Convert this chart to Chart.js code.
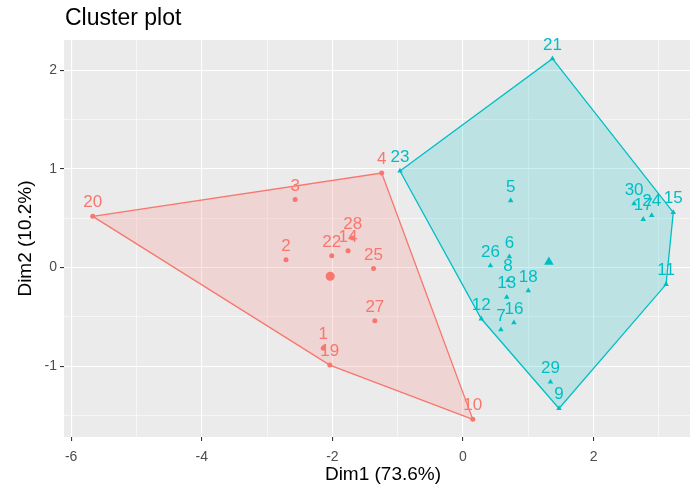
<!DOCTYPE html>
<html>
<head>
<meta charset="utf-8">
<script src="https://cdn.jsdelivr.net/npm/chart.js@4.4.1/dist/chart.umd.min.js"></script>
<style>
  html, body { margin: 0; padding: 0; background: #ffffff; overflow: hidden; }
  #wrap { position: relative; width: 710px; height: 486px; }
</style>
</head>
<body>
<div id="wrap"><canvas id="chart"></canvas></div>
<script>
// Cluster 1 (red, circles)
const ids1  = ['20', '3', '4', '2', '22', '14', '28', '25', '27', '1', '19', '10'];
const dim1A = [-5.67, -2.57, -1.245, -2.71, -2.01, -1.76, -1.69, -1.37, -1.35, -2.14, -2.04, 0.15];
const dim2A = [0.52, 0.69, 0.96, 0.08, 0.12, 0.17, 0.30, -0.01, -0.54, -0.82, -0.99, -1.54];

// Cluster 2 (cyan, triangles)
const ids2  = ['21', '23', '5', '30', '24', '17', '15', '26', '6', '8', '13', '18', '16', '7', '12', '29', '9', '11'];
const dim1B = [1.37, -0.965, 0.73, 2.62, 2.89, 2.76, 3.22, 0.42, 0.71, 0.69, 0.67, 1.00, 0.78, 0.58, 0.28, 1.34, 1.47, 3.11];
const dim2B = [2.12, 0.98, 0.68, 0.65, 0.53, 0.49, 0.56, 0.02, 0.11, -0.13, -0.30, -0.235, -0.56, -0.63, -0.52, -1.16, -1.43, -0.17];

// Axis breaks
const xBreaks = [-6, -5, -4, -3, -2, -1, 0, 1, 2, 3];
const yBreaks = [-1.5, -1, -0.5, 0, 0.5, 1, 1.5, 2];
const xLabelled = [-6, -4, -2, 0, 2];
const yLabelled = [-1, 0, 1, 2];

const RED = '#F8766D';
const CYAN = '#00BFC4';
const FONT = '"Liberation Sans", Arial, sans-serif';

function toPoints(xs, ys) { return xs.map((x, i) => ({ x: x, y: ys[i] })); }
function mean(a) { return a.reduce((s, v) => s + v, 0) / a.length; }

// Convex hull (monotone chain), returned as a closed ring
function convexHull(pts) {
  const p = pts.slice().sort((a, b) => a.x - b.x || a.y - b.y);
  const cross = (o, a, b) => (a.x - o.x) * (b.y - o.y) - (a.y - o.y) * (b.x - o.x);
  const lower = [], upper = [];
  for (const q of p) {
    while (lower.length >= 2 && cross(lower[lower.length - 2], lower[lower.length - 1], q) <= 0) lower.pop();
    lower.push(q);
  }
  for (let i = p.length - 1; i >= 0; i--) {
    const q = p[i];
    while (upper.length >= 2 && cross(upper[upper.length - 2], upper[upper.length - 1], q) <= 0) upper.pop();
    upper.push(q);
  }
  upper.pop(); lower.pop();
  const ring = lower.concat(upper);
  ring.push(ring[0]);
  return ring;
}

const ptsA = toPoints(dim1A, dim2A);
const ptsB = toPoints(dim1B, dim2B);
const centreA = [{ x: mean(dim1A), y: mean(dim2A) }];
const centreB = [{ x: mean(dim1B), y: mean(dim2B) }];

// Grey panel behind the grid
const panelBackground = {
  id: 'panelBackground',
  beforeDraw(chart) {
    const { ctx, chartArea: a } = chart;
    ctx.save();
    ctx.fillStyle = '#EBEBEB';
    ctx.fillRect(a.left, a.top, a.right - a.left, a.bottom - a.top);
    ctx.restore();
  }
};

// Observation numbers above each point, plus the plot title
const pointText = {
  id: 'pointText',
  afterDatasetsDraw(chart) {
    const { ctx } = chart;
    ctx.save();
    ctx.font = '17px ' + FONT;
    ctx.textAlign = 'center';
    ctx.textBaseline = 'alphabetic';
    chart.data.datasets.forEach((ds, i) => {
      if (!ds.pointNames) return;
      const meta = chart.getDatasetMeta(i);
      ctx.fillStyle = ds.borderColor;
      meta.data.forEach((el, j) => {
        ctx.fillText(ds.pointNames[j], el.x, el.y - 9);
      });
    });
    ctx.restore();
  },
  afterDraw(chart) {
    const { ctx } = chart;
    ctx.save();
    ctx.font = '23px ' + FONT;
    ctx.fillStyle = '#000000';
    ctx.textAlign = 'left';
    ctx.textBaseline = 'middle';
    ctx.fillText('Cluster plot', 65, 19);
    ctx.restore();
  }
};

const isMajor = (list, v) => list.some(m => Math.abs(m - v) < 1e-9);

new Chart(document.getElementById('chart'), {
  type: 'scatter',
  data: {
    datasets: [
      { data: centreA, order: 1, pointStyle: 'circle', pointRadius: 4.5,
        backgroundColor: RED, borderColor: RED, borderWidth: 0 },
      { data: centreB, order: 1, pointStyle: 'triangle', pointRadius: 5.5,
        backgroundColor: CYAN, borderColor: CYAN, borderWidth: 0 },
      { data: ptsA, order: 2, pointNames: ids1, pointStyle: 'circle', pointRadius: 2.5,
        backgroundColor: RED, borderColor: RED, borderWidth: 0 },
      { data: ptsB, order: 2, pointNames: ids2, pointStyle: 'triangle', pointRadius: 3.2,
        backgroundColor: CYAN, borderColor: CYAN, borderWidth: 0 },
      { data: convexHull(ptsA), order: 3, showLine: true, fill: 'shape', tension: 0,
        pointRadius: 0, borderColor: RED, borderWidth: 1.3, backgroundColor: 'rgba(248,118,109,0.2)' },
      { data: convexHull(ptsB), order: 3, showLine: true, fill: 'shape', tension: 0,
        pointRadius: 0, borderColor: CYAN, borderWidth: 1.3, backgroundColor: 'rgba(0,191,196,0.2)' }
    ]
  },
  options: {
    responsive: true,
    maintainAspectRatio: false,
    animation: false,
    events: [],
    layout: { padding: { left: 0, top: 40, right: 8, bottom: 0 } },
    plugins: { legend: { display: false }, tooltip: { enabled: false } },
    scales: {
      x: {
        type: 'linear',
        min: -6.11, max: 3.66,
        afterFit(scale) { scale.height = 49; },
        afterBuildTicks(scale) { scale.ticks = xBreaks.map(v => ({ value: v })); },
        border: { display: false },
        grid: {
          color: '#FFFFFF',
          lineWidth: c => (c.tick && isMajor(xLabelled, c.tick.value)) ? 1.1 : 0.55,
          tickColor: c => (c.tick && isMajor(xLabelled, c.tick.value)) ? '#333333' : 'rgba(0,0,0,0)',
          tickWidth: 1.1,
          tickLength: 4,
          drawTicks: true
        },
        ticks: {
          autoSkip: false, maxRotation: 0, padding: 8,
          color: '#4D4D4D', font: { family: FONT, size: 14 },
          callback: v => isMajor(xLabelled, v) ? String(v) : ''
        },
        title: {
          display: true, text: 'Dim1 (73.6%)', color: '#000000',
          font: { family: FONT, size: 19 }, padding: { top: 0, bottom: 0 }
        }
      },
      y: {
        type: 'linear',
        min: -1.72, max: 2.31,
        afterFit(scale) { scale.width = 64; },
        afterBuildTicks(scale) { scale.ticks = yBreaks.map(v => ({ value: v })); },
        border: { display: false },
        grid: {
          color: '#FFFFFF',
          lineWidth: c => (c.tick && isMajor(yLabelled, c.tick.value)) ? 1.1 : 0.55,
          tickColor: c => (c.tick && isMajor(yLabelled, c.tick.value)) ? '#333333' : 'rgba(0,0,0,0)',
          tickWidth: 1.1,
          tickLength: 4,
          drawTicks: true
        },
        ticks: {
          autoSkip: false, padding: 3,
          color: '#4D4D4D', font: { family: FONT, size: 14 },
          callback: v => isMajor(yLabelled, v) ? String(v) : ''
        },
        title: {
          display: true, text: 'Dim2 (10.2%)', color: '#000000',
          font: { family: FONT, size: 19 }, padding: { top: 14, bottom: 0 }
        }
      }
    }
  },
  plugins: [panelBackground, pointText]
});
</script>
</body>
</html>
